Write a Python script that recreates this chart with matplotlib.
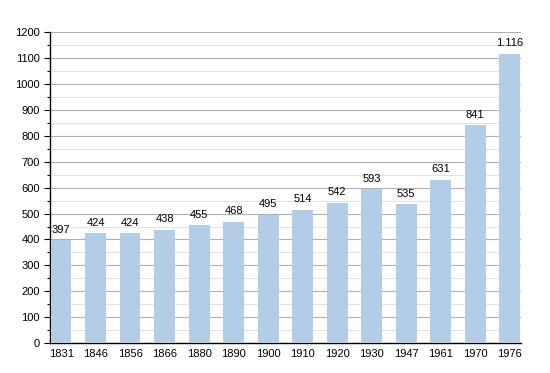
import matplotlib
matplotlib.use('Agg')
import matplotlib.pyplot as plt
from matplotlib.ticker import MultipleLocator

plt.rcParams['font.family'] = ['Liberation Sans', 'DejaVu Sans']

years = ['1831', '1846', '1856', '1866', '1880', '1890', '1900',
         '1910', '1920', '1930', '1947', '1961', '1970', '1976']
population = [397, 424, 424, 438, 455, 468, 495, 514, 542, 593, 535, 631, 841, 1116]
labels = ['397', '424', '424', '438', '455', '468', '495', '514', '542',
          '593', '535', '631', '841', '1.116']

fig = plt.figure(figsize=(5.5, 3.73), dpi=100)
ax = fig.add_axes([0.091, 0.080, 0.856, 0.834])

x = range(len(years))
bars = ax.bar(x, population, width=0.6, color='#b3cde6', zorder=3)
for b, lab in zip(bars, labels):
    ax.annotate(lab, (b.get_x() + b.get_width() / 2, b.get_height()),
                xytext=(0, 4), textcoords='offset points',
                ha='center', va='bottom', fontsize=8, zorder=4)

ax.set_xlim(-0.32, 13.32)
ax.set_ylim(0, 1200)
ax.set_xticks(list(x))
ax.set_xticklabels(years, fontsize=8)
ax.yaxis.set_major_locator(MultipleLocator(100))
ax.yaxis.set_minor_locator(MultipleLocator(50))
ax.tick_params(axis='y', labelsize=8, direction='out', length=4, width=0.8)
ax.tick_params(axis='y', which='minor', length=2, width=0.8)
ax.tick_params(axis='x', length=0, pad=4)

ax.grid(axis='y', which='major', color='#b0b0b0', linewidth=0.8, zorder=0)
ax.grid(axis='y', which='minor', color='#e2e2e2', linewidth=0.8, zorder=0)

for s in ['top', 'right']:
    ax.spines[s].set_visible(False)
ax.spines['left'].set_linewidth(1)
ax.spines['bottom'].set_linewidth(1)

plt.savefig('out.png', dpi=100)
plt.close(fig)
